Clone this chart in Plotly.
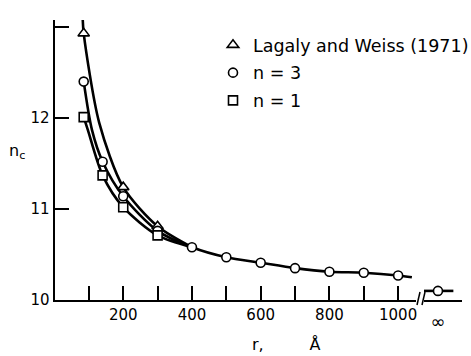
import plotly.graph_objects as go

# ---- data ----
tri_r = [85, 200, 300]
tri_y = [12.93, 11.24, 10.81]
c3_r = [85, 140, 200, 300, 400, 500, 600, 700, 800, 900, 1000]
c3_y = [12.40, 11.52, 11.14, 10.76, 10.58, 10.47, 10.41, 10.35, 10.31, 10.30, 10.27]
sq_r = [85, 140, 200, 300]
sq_y = [12.01, 11.37, 11.02, 10.71]

# curves as traced in the picture
tri_curve_r = [82, 85, 130, 200, 300, 400]
tri_curve_y = [13.10, 12.93, 11.95, 11.24, 10.81, 10.58]
c3_curve_r = [85, 109, 140, 200, 300, 400, 500, 600, 700, 800, 900, 1000, 1040]
c3_curve_y = [12.40, 11.87, 11.52, 11.14, 10.76, 10.58, 10.47, 10.41, 10.35, 10.31, 10.30, 10.27, 10.25]
sq_curve_r = [85, 97, 140, 200, 300, 400]
sq_curve_y = [12.01, 11.87, 11.37, 11.02, 10.71, 10.58]

inf_label = ["\u221e"]
inf_y = [10.10]

x_tickvals = [100, 200, 300, 400, 500, 600, 700, 800, 900, 1000]
x_ticktext = ["", "200", "", "400", "", "600", "", "800", "", "1000"]
y_tickvals = [10, 11, 12, 13]
y_ticktext = ["10", "11", "12", ""]

names = ["Lagaly and Weiss (1971)", "n = 3", "n = 1"]

W, H = 471, 356
FONT = "DejaVu Sans"
LW = 2.6

fig = go.Figure()
for cr, cy in [(tri_curve_r, tri_curve_y), (c3_curve_r, c3_curve_y), (sq_curve_r, sq_curve_y)]:
    fig.add_trace(go.Scatter(x=cr, y=cy, mode="lines", showlegend=False,
                             line=dict(color="black", width=LW, shape="spline", smoothing=0.8),
                             hoverinfo="skip"))

mk = dict(color="white", line=dict(color="black", width=1.6))
fig.add_trace(go.Scatter(x=tri_r, y=tri_y, mode="markers", name=names[0], legendgroup="a",
                         marker=dict(symbol="triangle-up", size=10, **mk)))
fig.add_trace(go.Scatter(x=c3_r, y=c3_y, mode="markers", name=names[1], legendgroup="b",
                         marker=dict(symbol="circle", size=9, **mk)))
fig.add_trace(go.Scatter(x=sq_r, y=sq_y, mode="markers", name=names[2], legendgroup="c",
                         marker=dict(symbol="square", size=9, **mk)))

# infinity segment
fig.add_trace(go.Scatter(x=inf_label, y=inf_y, mode="markers", xaxis="x2", showlegend=False,
                         marker=dict(symbol="line-ew", size=22, line=dict(color="black", width=LW))))
fig.add_trace(go.Scatter(x=inf_label, y=inf_y, mode="markers", xaxis="x2", showlegend=False,
                         marker=dict(symbol="circle", size=9, **mk)))

axis_common = dict(showgrid=False, zeroline=False, showline=True, linecolor="black",
                   linewidth=2, ticks="inside", ticklen=14, tickwidth=1.5, tickcolor="black",
                   automargin=False,
                   tickfont=dict(family=FONT, size=15, color="black"))

fig.update_layout(
    width=W, height=H, autosize=False,
    margin=dict(l=0, r=0, t=0, b=0, pad=0, autoexpand=False),
    paper_bgcolor="white", plot_bgcolor="white",
    font=dict(family=FONT, color="black"),
    xaxis=dict(domain=[54.5 / W, 416 / W], range=[0, 1052], tickvals=x_tickvals,
               ticktext=x_ticktext, anchor="y", **axis_common),
    yaxis=dict(domain=[56 / H, 336 / H], range=[10, 13.077], tickvals=y_tickvals,
               ticktext=y_ticktext, **axis_common),
    xaxis2=dict(domain=[424 / W, 462 / W], anchor="y", type="category",
                categoryarray=inf_label, range=[-0.5, 0.86], automargin=False,
                showgrid=False, zeroline=False, showline=True, linecolor="black", linewidth=2,
                ticks="", ticklabelstandoff=4,
                tickfont=dict(family=FONT, size=18, color="black")),
    legend=dict(x=213 / W, xanchor="left", y=1 - 27 / H, yanchor="top",
                font=dict(family=FONT, size=17.5, color="black"), tracegroupgap=2,
                bgcolor="rgba(0,0,0,0)", borderwidth=0),
    showlegend=True,
)

# axis break marks
for dx in (0, 5):
    fig.add_shape(type="line", xref="paper", yref="paper",
                  x0=(417 + dx) / W, y0=1 - 305 / H, x1=(420 + dx) / W, y1=1 - 292 / H,
                  line=dict(color="black", width=1.5))

fig.add_annotation(x=17 / W, y=1 - 152 / H, xref="paper", yref="paper", showarrow=False,
                   xanchor="center", yanchor="middle",
                   text="n<sub>c</sub>", font=dict(family=FONT, size=16, color="black"))
fig.add_annotation(x=286 / W, y=1 - 344 / H, xref="paper", yref="paper", showarrow=False,
                   xanchor="center", yanchor="middle",
                   text="r,\u00a0\u00a0\u00a0\u00a0\u00a0\u00a0\u00a0\u00a0\u00a0\u00c5",
                   font=dict(family=FONT, size=16, color="black"))

fig.write_html("out.html")
